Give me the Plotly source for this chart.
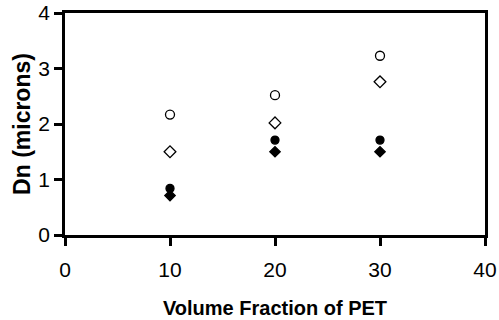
import plotly.graph_objects as go

x_vals = [10, 20, 30]
open_circle = [2.17, 2.52, 3.23]
open_diamond = [1.50, 2.02, 2.76]
filled_circle = [0.84, 1.71, 1.71]
filled_diamond = [0.71, 1.50, 1.50]

x_ticks = [0, 10, 20, 30, 40]
y_ticks = [0, 1, 2, 3, 4]

fig = go.Figure()
series = [
    (open_circle, "circle-open", 9),
    (open_diamond, "diamond-open", 9),
    (filled_circle, "circle", 8),
    (filled_diamond, "diamond", 8),
]
for ys, sym, sz in series:
    fig.add_trace(go.Scatter(
        x=x_vals, y=ys, mode="markers",
        marker=dict(symbol=sym, size=sz, color="black",
                    line=dict(color="black", width=1.3)),
        showlegend=False,
    ))

axis_common = dict(
    showline=True, linecolor="black", linewidth=2.5, mirror=True,
    showgrid=False, zeroline=False, automargin=False,
    ticks="outside", ticklen=8, tickwidth=2.5, tickcolor="black",
    tickfont=dict(family="Liberation Sans, Arial", size=21, color="black"),
)

fig.update_layout(
    width=499, height=320,
    margin=dict(l=65, r=14, t=13, b=85, autoexpand=False),
    paper_bgcolor="white", plot_bgcolor="white",
    xaxis=dict(range=[0, 40], tickvals=x_ticks, **axis_common,
               ticklabelstandoff=6,
               title=dict(text="<b>Volume Fraction of PET</b>",
                          font=dict(family="Liberation Sans, Arial", size=20, color="black"),
                          standoff=22)),
    yaxis=dict(range=[0, 4], tickvals=y_ticks, **axis_common,
               title=dict(text="<b>Dn (microns)</b>",
                          font=dict(family="Liberation Sans, Arial", size=23, color="black"),
                          standoff=2)),
)

fig.write_html("out.html")
